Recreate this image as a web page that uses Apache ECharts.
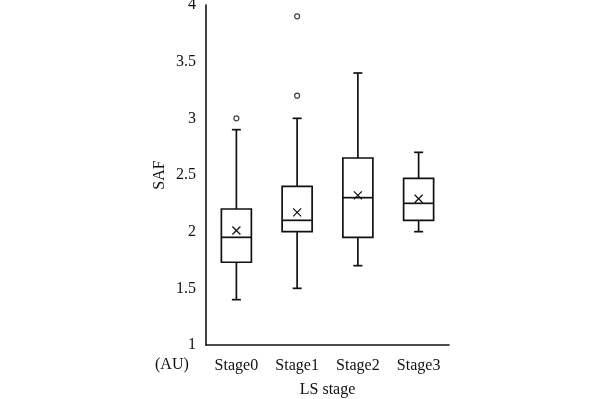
<!DOCTYPE html>
<html><head><meta charset="utf-8">
<script src="https://cdn.jsdelivr.net/npm/echarts@6/dist/echarts.min.js"></script>
<style>html,body{margin:0;padding:0;background:#fff}#c{width:604px;height:399px}</style>
</head><body><div id="c"></div>
<script>
var categories = ['Stage0', 'Stage1', 'Stage2', 'Stage3'];
// [min whisker, Q1, median, Q3, max whisker]
var boxStats = [
  [1.40, 1.73, 1.95, 2.20, 2.90],
  [1.50, 2.00, 2.10, 2.40, 3.00],
  [1.70, 1.95, 2.30, 2.65, 3.40],
  [2.00, 2.10, 2.25, 2.47, 2.70]
];
var means = [2.01, 2.17, 2.32, 2.29];
var outliers = [[0, 3.0], [1, 3.2], [1, 3.9]];
var yTicks = [1, 1.5, 2, 2.5, 3, 3.5, 4];

var boxData = boxStats.map(function (s, i) { return [i].concat(s).concat([means[i]]); });
var FONT = '"Liberation Serif", "Times New Roman", serif';
var chart = echarts.init(document.getElementById('c'));
var INK = '#111';

chart.setOption({
  animation: false,
  grid: { left: 206, right: 155, top: 5, bottom: 54, containLabel: false, outerBoundsMode: 'none' },
  xAxis: {
    type: 'category', data: categories, boundaryGap: true,
    axisLine: { lineStyle: { color: INK, width: 1.6 } },
    axisTick: { show: false },
    axisLabel: { color: INK, fontFamily: FONT, fontSize: 16, margin: 13 },
    name: 'LS stage', nameLocation: 'middle', nameGap: 37,
    nameTextStyle: { color: INK, fontFamily: FONT, fontSize: 16 }
  },
  yAxis: {
    type: 'value', min: 1, max: 4, interval: 0.5,
    axisLine: { show: true, lineStyle: { color: INK, width: 1.6 } },
    axisTick: { show: false },
    splitLine: { show: false },
    axisLabel: { color: INK, fontFamily: FONT, fontSize: 16, margin: 10,
      formatter: function (v) { return yTicks.indexOf(v) >= 0 ? String(v) : ''; } },
    name: 'SAF', nameLocation: 'middle', nameGap: 38, nameRotate: 90,
    nameTextStyle: { color: INK, fontFamily: FONT, fontSize: 16 }
  },
  graphic: [{
    type: 'text', left: 155, top: 357,
    style: { text: '(AU)', fill: INK, font: '16px ' + FONT }
  }],
  series: [{
    type: 'custom',
    data: boxData,
    renderItem: function (params, api) {
      var x = api.value(0);
      var lo = api.coord([x, api.value(1)]);
      var q1 = api.coord([x, api.value(2)]);
      var md = api.coord([x, api.value(3)]);
      var q3 = api.coord([x, api.value(4)]);
      var hi = api.coord([x, api.value(5)]);
      var mn = api.coord([x, api.value(6)]);
      var cx = lo[0], hw = 15, cw = 4.5, xs = 4;
      var st = { stroke: INK, lineWidth: 1.7, fill: null };
      return {
        type: 'group',
        children: [
          { type: 'rect', shape: { x: cx - hw, y: q3[1], width: 2 * hw, height: q1[1] - q3[1] }, style: { stroke: INK, lineWidth: 1.7, fill: '#fff' } },
          { type: 'line', shape: { x1: cx - hw, y1: md[1], x2: cx + hw, y2: md[1] }, style: st },
          { type: 'line', shape: { x1: cx, y1: q3[1], x2: cx, y2: hi[1] }, style: st },
          { type: 'line', shape: { x1: cx, y1: q1[1], x2: cx, y2: lo[1] }, style: st },
          { type: 'line', shape: { x1: cx - cw, y1: hi[1], x2: cx + cw, y2: hi[1] }, style: st },
          { type: 'line', shape: { x1: cx - cw, y1: lo[1], x2: cx + cw, y2: lo[1] }, style: st },
          { type: 'line', shape: { x1: cx - xs, y1: mn[1] - xs, x2: cx + xs, y2: mn[1] + xs }, style: { stroke: INK, lineWidth: 1.3 } },
          { type: 'line', shape: { x1: cx - xs, y1: mn[1] + xs, x2: cx + xs, y2: mn[1] - xs }, style: { stroke: INK, lineWidth: 1.3 } }
        ]
      };
    },
    encode: { x: 0, y: [1, 2, 3, 4, 5, 6] }
  }, {
    type: 'scatter',
    data: outliers,
    symbol: 'circle', symbolSize: 5,
    itemStyle: { color: '#fff', borderColor: INK, borderWidth: 1.2 }
  }]
});
</script></body></html>
